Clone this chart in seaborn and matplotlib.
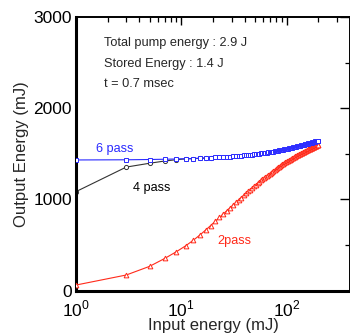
import matplotlib
matplotlib.use("Agg")
import matplotlib.pyplot as plt
import seaborn as sns
import pandas as pd

sns.set_theme(style="white")
plt.rcParams['font.family'] = ['Liberation Sans', 'DejaVu Sans']
plt.rcParams['mathtext.fontset'] = 'custom'
plt.rcParams['mathtext.rm'] = 'Liberation Sans'

# input energy (mJ), odd steps 1..199
input_mj = [1, 3, 5, 7, 9, 11, 13, 15, 17, 19, 21, 23, 25, 27, 29, 31, 33, 35, 37, 39,
            41, 43, 45, 47, 49, 51, 53, 55, 57, 59, 61, 63, 65, 67, 69, 71, 73, 75, 77, 79,
            81, 83, 85, 87, 89, 91, 93, 95, 97, 99, 101, 103, 105, 107, 109, 111, 113, 115, 117, 119,
            121, 123, 125, 127, 129, 131, 133, 135, 137, 139, 141, 143, 145, 147, 149, 151, 153, 155, 157, 159,
            161, 163, 165, 167, 169, 171, 173, 175, 177, 179, 181, 183, 185, 187, 189, 191, 193, 195, 197, 199]

out_2pass = [62, 172, 267, 355, 428, 492, 553, 610, 664, 714, 760, 803, 841, 876, 909, 940, 970, 996, 1021, 1045,
             1068, 1088, 1108, 1127, 1145, 1163, 1178, 1193, 1208, 1222, 1236, 1249, 1261, 1273, 1284, 1295, 1305, 1316, 1326, 1336,
             1344, 1353, 1361, 1370, 1377, 1385, 1392, 1400, 1408, 1415, 1421, 1427, 1432, 1437, 1443, 1448, 1454, 1459, 1464, 1469,
             1474, 1478, 1483, 1487, 1492, 1495, 1499, 1503, 1507, 1511, 1514, 1518, 1522, 1525, 1529, 1532, 1536, 1539, 1543, 1546,
             1549, 1552, 1554, 1558, 1560, 1563, 1566, 1569, 1571, 1574, 1577, 1579, 1582, 1585, 1587, 1590, 1592, 1595, 1597, 1599]

out_6pass = [1433, 1435, 1438, 1441, 1444, 1447, 1449, 1452, 1455, 1458, 1461, 1463, 1465, 1467, 1469, 1471, 1474, 1477, 1479, 1482,
             1484, 1486, 1488, 1491, 1494, 1497, 1499, 1501, 1504, 1506, 1508, 1510, 1513, 1515, 1518, 1520, 1523, 1525, 1528, 1530,
             1532, 1535, 1537, 1539, 1541, 1543, 1545, 1548, 1550, 1553, 1555, 1558, 1560, 1562, 1564, 1566, 1569, 1571, 1573, 1575,
             1577, 1579, 1581, 1583, 1585, 1586, 1588, 1590, 1592, 1594, 1596, 1598, 1600, 1602, 1603, 1605, 1607, 1609, 1611, 1612,
             1614, 1616, 1617, 1619, 1621, 1622, 1624, 1626, 1627, 1629, 1631, 1632, 1634, 1636, 1637, 1639, 1641, 1642, 1643, 1645]

# 4 pass curve merges under the 6 pass one after ~10 mJ
input_4pass = [1, 3, 5, 7, 9, 11, 13, 15, 17, 19]
out_4pass = [1086, 1355, 1397, 1422, 1436, 1445, 1448, 1451, 1454, 1457]

fig = plt.figure(figsize=(3.5, 3.36), dpi=100)
ax = fig.add_axes([76 / 350, 45.3 / 336, 274 / 350, 273.7 / 336])

df4 = pd.DataFrame({'x': input_4pass, 'y': out_4pass})
df6 = pd.DataFrame({'x': input_mj, 'y': out_6pass})
df2 = pd.DataFrame({'x': input_mj, 'y': out_2pass})

sns.lineplot(data=df4, x='x', y='y', ax=ax, color='#333333', lw=0.8, marker='o',
             markersize=3.0, mfc='white', mec='#333333', mew=0.7, sort=False, estimator=None, zorder=2)
sns.lineplot(data=df2, x='x', y='y', ax=ax, color='#ff2a1a', lw=0.8, marker='^',
             markersize=3.4, mfc='white', mec='#ff2a1a', mew=0.7, sort=False, estimator=None, zorder=3)
sns.lineplot(data=df6, x='x', y='y', ax=ax, color='#2a2aff', lw=0.8, marker='s',
             markersize=3.0, mfc='white', mec='#2a2aff', mew=0.7, sort=False, estimator=None, zorder=4)

ax.set_xscale('log')
ax.set_xlim(1, 400)
ax.set_ylim(0, 3000)
ax.set_yticks([0, 1000, 2000, 3000])
ax.set_yticks([500, 1500, 2500], minor=True)
ax.set_xticks([1, 10, 100])
ax.set_xticklabels([r'$10^0$', r'$10^1$', r'$10^2$'])

ax.tick_params(axis='both', which='both', direction='in', top=True, right=True,
               colors='black', labelsize=12.5, pad=3)
ax.tick_params(axis='x', which='major', pad=6)
ax.tick_params(which='major', length=6, width=1.0)
ax.tick_params(which='minor', length=3.5, width=0.9)
ax.tick_params(axis='y', which='major', length=7)

for side in ['left', 'bottom']:
    ax.spines[side].set_linewidth(2.2)
for side in ['top', 'right']:
    ax.spines[side].set_linewidth(1.4)
for s in ax.spines.values():
    s.set_color('black')

ax.set_xlabel('Input energy (mJ)', fontsize=12, labelpad=-1)
ax.set_ylabel('Output Energy (mJ)', fontsize=12, labelpad=3)

ax.text(1.84, 2715, 'Total pump energy : 2.9 J', fontsize=9.2, va='center')
ax.text(1.84, 2486, 'Stored Energy : 1.4 J', fontsize=9.2, va='center')
ax.text(1.84, 2267, 't = 0.7 msec', fontsize=9.2, va='center')
ax.text(1.55, 1558, '6 pass', fontsize=9.2, va='center', color='#2a2aff')
ax.text(3.46, 1121, '4 pass', fontsize=9.2, va='center', color='black')
ax.text(22.2, 546, '2pass', fontsize=9.2, va='center', color='#ff2a1a')

fig.savefig('out.png', dpi=100)
